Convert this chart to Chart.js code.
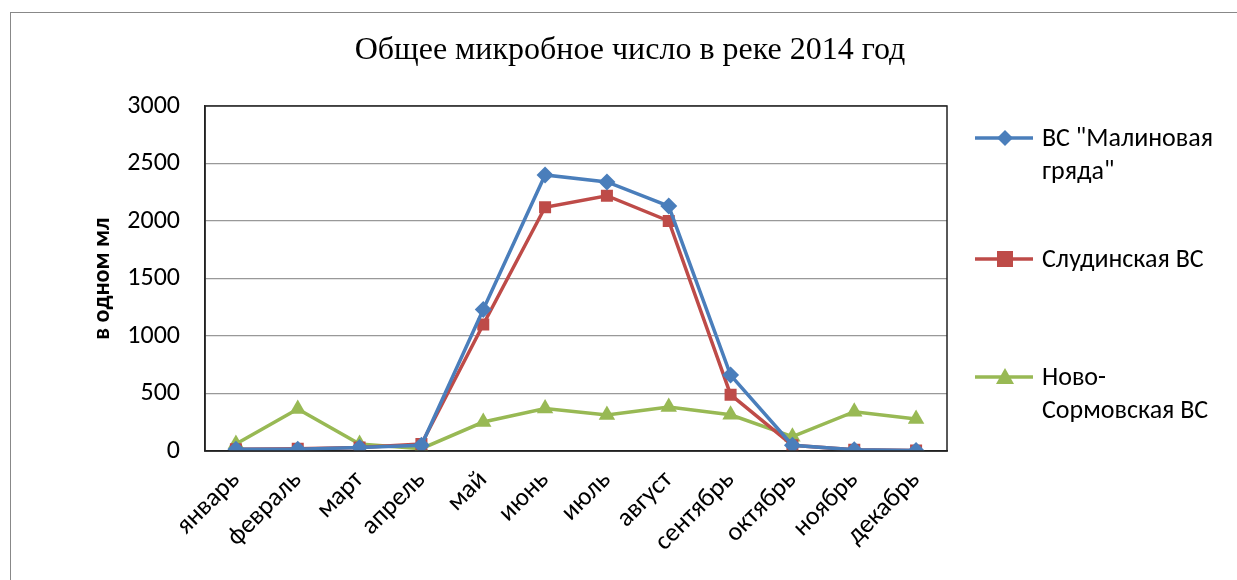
<!DOCTYPE html>
<html>
<head>
<meta charset="utf-8">
<script src="https://cdn.jsdelivr.net/npm/chart.js@4"></script>
<style>
  body { margin: 0; background: #fff; }
  #wrap { position: relative; width: 1237px; height: 580px; overflow: hidden; }
  #frame { position: absolute; left: 10px; top: 12px; width: 1240px; height: 600px; border: 1px solid #888; box-sizing: border-box; }
  canvas { position: absolute; left: 0; top: 0; }
  #title { position: absolute; left: 0; width: 1260px; top: 30px; text-align: center; font-family: "Liberation Serif", "Times New Roman", serif; font-size: 32px; color: #000; }
  .leg { position: absolute; left: 975px; font-family: Carlito, Lato, "Liberation Sans", sans-serif; font-size: 26px; color: #000; line-height: 33px; }
  .leg svg { position: absolute; left: 0; top: 6px; }
  .leg span { display: block; margin-left: 67px; white-space: nowrap; }
</style>
</head>
<body>
<div id="wrap">
  <div id="frame"></div>
  <canvas id="chart" width="1237" height="580"></canvas>
  <div id="title">Общее микробное число в реке 2014 год</div>
  <div class="leg" style="top:121px">
    <svg width="60" height="22"><line x1="0" y1="11" x2="58" y2="11" stroke="#4A7EBB" stroke-width="3.5"/><polygon points="30,3 38,11 30,19 22,11" fill="#4A7EBB"/></svg>
    <span>ВС "Малиновая</span><span>гряда"</span>
  </div>
  <div class="leg" style="top:242px">
    <svg width="60" height="22"><line x1="0" y1="11" x2="58" y2="11" stroke="#BE4B48" stroke-width="3.5"/><rect x="22" y="3" width="16" height="16" fill="#BE4B48"/></svg>
    <span>Слудинская ВС</span>
  </div>
  <div class="leg" style="top:360px">
    <svg width="60" height="22"><line x1="0" y1="11" x2="58" y2="11" stroke="#98B954" stroke-width="3.5"/><polygon points="30,2 39,18 21,18" fill="#98B954"/></svg>
    <span>Ново-</span><span>Сормовская ВС</span>
  </div>
</div>
<script>
const months = ['январь', 'февраль', 'март', 'апрель', 'май', 'июнь', 'июль', 'август', 'сентябрь', 'октябрь', 'ноябрь', 'декабрь'];
const malinovaya = [15, 15, 30, 50, 1230, 2400, 2340, 2130, 660, 50, 10, 5];
const sludinskaya = [15, 20, 30, 60, 1100, 2120, 2220, 2000, 490, 50, 10, 5];
const novoSormovskaya = [60, 365, 60, 20, 252, 370, 313, 383, 315, 125, 342, 278];
const yTicks = [0, 500, 1000, 1500, 2000, 2500, 3000];

const tickFont = { family: 'Carlito, Lato, "Liberation Sans", sans-serif', size: 26 };

const plotBorder = {
    id: 'plotBorder',
    afterDraw(chart) {
        const a = chart.chartArea;
        const ctx = chart.ctx;
        ctx.save();
        ctx.strokeStyle = '#222';
        ctx.lineWidth = 1.5;
        ctx.strokeRect(a.left, a.top, a.right - a.left, a.bottom - a.top);
        ctx.restore();
    }
};

function series(label, data, color, style, radius) {
    return {
        label, data,
        borderColor: color, backgroundColor: color,
        borderWidth: 3.5,
        pointStyle: style, pointRadius: radius, pointHoverRadius: radius,
        pointBorderWidth: 0,
        tension: 0
    };
}

new Chart(document.getElementById('chart'), {
    type: 'line',
    data: {
        labels: months,
        datasets: [
            series('ВС "Малиновая гряда"', malinovaya, '#4A7EBB', 'rectRot', 8.5),
            series('Слудинская ВС', sludinskaya, '#BE4B48', 'rect', 8.5),
            series('Ново-Сормовская ВС', novoSormovskaya, '#98B954', 'triangle', 9.5)
        ]
    },
    options: {
        responsive: false,
        animation: false,
        layout: { padding: { left: 89, right: 290, top: 106, bottom: 0 } },
        plugins: {
            legend: { display: false },
            tooltip: { enabled: false },
            title: { display: false }
        },
        scales: {
            x: {
                offset: true,
                grid: { display: false },
                border: { color: '#222', width: 1.5 },
                ticks: { font: tickFont, color: '#000', minRotation: 45, maxRotation: 45, padding: 6 },
                afterFit(scale) { scale.height = 129; }
            },
            y: {
                min: 0, max: 3000,
                afterBuildTicks(scale) { scale.ticks = yTicks.map(v => ({ value: v })); },
                grid: { color: '#999', lineWidth: 1.2, drawTicks: false },
                border: { color: '#222', width: 1.5 },
                ticks: { font: tickFont, color: '#000', padding: 25, callback: v => String(v) },
                title: {
                    display: true,
                    text: 'в одном мл',
                    font: { family: tickFont.family, size: 24, weight: 'bold' },
                    color: '#000',
                    padding: 0
                },
                afterFit(scale) { scale.width = 116; }
            }
        }
    },
    plugins: [plotBorder]
});
</script>
</body>
</html>
